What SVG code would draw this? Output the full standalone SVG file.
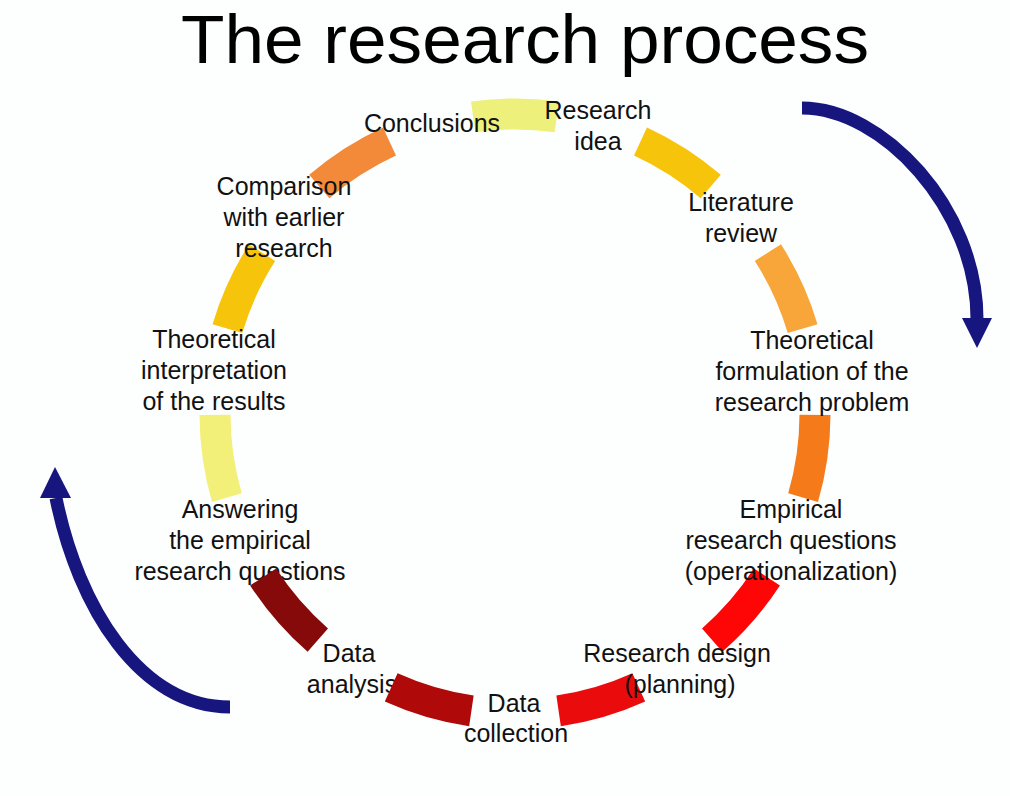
<svg xmlns="http://www.w3.org/2000/svg" width="1010" height="796" viewBox="0 0 1010 796">
<style>
.lbl{font-family:"Liberation Sans",Arial,sans-serif;font-size:25px;fill:#111;text-anchor:middle}
.title{font-family:"Liberation Sans",Arial,sans-serif;font-size:69px;fill:#000;text-anchor:middle}
.seg{fill:none;stroke-width:31;stroke-linecap:butt}
.arr{fill:none;stroke:#16167e;stroke-width:13}
.head{fill:#16167e}
</style>
<rect width="1010" height="796" fill="#fdfefe"/>
<text class="title" x="525" y="63" textLength="688" lengthAdjust="spacingAndGlyphs">The research process</text>
<g id="connectors">
<path class="seg" stroke="#eef07c" d="M473.2,116.9 A300,300 0 0 1 556.8,116.9"/>
<path class="seg" stroke="#f7c40c" d="M640.5,141.5 A300,300 0 0 1 710.7,186.6"/>
<path class="seg" stroke="#f8a53a" d="M767.9,252.6 A300,300 0 0 1 802.6,328.6"/>
<path class="seg" stroke="#f47a1a" d="M815,414.9 A300,300 0 0 1 803.1,497.6"/>
<path class="seg" stroke="#ff0606" d="M766.9,577 A300,300 0 0 1 712.2,640.1"/>
<path class="seg" stroke="#ea0c0c" d="M638.8,687.3 A300,300 0 0 1 558.6,710.8"/>
<path class="seg" stroke="#f3f07a" d="M226.9,497.6 A300,300 0 0 1 215,414.9"/>
<path class="seg" stroke="#f7c40c" d="M227.4,328.6 A300,300 0 0 1 262.1,252.6"/>
<path class="seg" stroke="#f38a3a" d="M319.3,186.6 A300,300 0 0 1 389.5,141.5"/>
<path class="arr" d="M802,108 C882,108 977,208 977,319"/>
<polygon class="head" points="962,318 992,318 977,348"/>
<path class="arr" d="M230,707 C140,707 78,607 56,498"/>
<polygon class="head" points="40,498 71,498 55,467"/>
</g>
<g id="n-idea"><text class="lbl" x="598" y="119">Research</text><text class="lbl" x="598" y="150">idea</text></g>
<g id="n-lit"><text class="lbl" x="741" y="211">Literature</text><text class="lbl" x="741" y="242">review</text></g>
<g id="n-theory"><text class="lbl" x="812" y="349">Theoretical</text><text class="lbl" x="812" y="380">formulation of the</text><text class="lbl" x="812" y="411">research problem</text></g>
<g id="n-empirical"><text class="lbl" x="791" y="518">Empirical</text><text class="lbl" x="791" y="549">research questions</text><text class="lbl" x="791" y="580">(operationalization)</text></g>
<g id="n-design"><text class="lbl" x="677" y="662">Research design</text><text class="lbl" x="680" y="693">(planning)</text></g>
<g id="n-collection"><text class="lbl" x="514" y="712">Data</text><text class="lbl" x="516" y="742">collection</text></g>
<g id="n-analysis"><text class="lbl" x="349" y="662">Data</text><text class="lbl" x="352" y="693">analysis</text></g>
<g id="n-answering"><text class="lbl" x="240" y="518">Answering</text><text class="lbl" x="240" y="549">the empirical</text><text class="lbl" x="240" y="580">research questions</text></g>
<g id="n-interpretation"><text class="lbl" x="214" y="348">Theoretical</text><text class="lbl" x="214" y="379">interpretation</text><text class="lbl" x="214" y="410">of the results</text></g>
<g id="n-comparison"><text class="lbl" x="284" y="195">Comparison</text><text class="lbl" x="284" y="226">with earlier</text><text class="lbl" x="284" y="257">research</text></g>
<g id="n-conclusions"><text class="lbl" x="432" y="132">Conclusions</text></g>
<g id="connectors-front">
<path class="seg" stroke="#b00909" d="M471.4,710.8 A300,300 0 0 1 391.2,687.3"/>
<path class="seg" stroke="#860a0a" d="M317.8,640.1 A300,300 0 0 1 263.1,577"/>
</g>
</svg>
